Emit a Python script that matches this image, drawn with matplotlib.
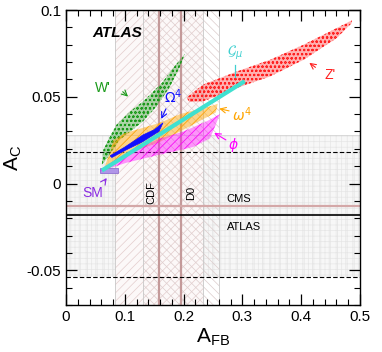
import matplotlib
matplotlib.use("Agg")
import matplotlib.pyplot as plt
from matplotlib.ticker import MultipleLocator

plt.rcParams['font.family'] = ['Liberation Sans', 'DejaVu Sans']
plt.rcParams['hatch.linewidth'] = 0.5

# ---------------- data ----------------
# measurements
cdf_afb, cdf_err = 0.158, 0.075
d0_afb, d0_err = 0.196, 0.065
atlas_ac, atlas_err = -0.018, 0.036
cms_ac, cms_err = -0.013, 0.041

# model regions (outline of scanned point clouds)
wprime_x = [0.061, 0.0635, 0.075, 0.086, 0.109, 0.131, 0.163, 0.182, 0.202,
            0.194, 0.177, 0.154, 0.131, 0.092, 0.066]
wprime_y = [0.011, 0.0195, 0.0272, 0.0339, 0.0416, 0.0473, 0.0579, 0.0665, 0.0747,
            0.0674, 0.0559, 0.0444, 0.0358, 0.0253, 0.0128]

omega_x = [0.066, 0.075, 0.080, 0.100, 0.120, 0.160, 0.194, 0.216, 0.250, 0.258,
           0.255, 0.216, 0.194, 0.160, 0.120, 0.090, 0.068]
omega_y = [0.010, 0.018, 0.025, 0.029, 0.031, 0.035, 0.040, 0.042, 0.045, 0.046,
           0.041, 0.034, 0.030, 0.024, 0.019, 0.014, 0.009]

phi_x = [0.058, 0.100, 0.160, 0.200, 0.240, 0.262, 0.245, 0.216, 0.160, 0.103, 0.058]
phi_y = [0.008, 0.017, 0.026, 0.030, 0.036, 0.040, 0.026, 0.021, 0.0167, 0.012, 0.007]

Omega_x = [0.075, 0.100, 0.131, 0.150, 0.165, 0.158, 0.130, 0.100, 0.078]
Omega_y = [0.016, 0.021, 0.028, 0.031, 0.035, 0.030, 0.024, 0.019, 0.015]

zp_x = [0.205, 0.233, 0.290, 0.347, 0.404, 0.460, 0.486,
        0.486, 0.460, 0.404, 0.347, 0.290, 0.233, 0.210]
zp_y = [0.0495, 0.057, 0.0645, 0.0713, 0.080, 0.0895, 0.094,
        0.0925, 0.0837, 0.0713, 0.0617, 0.055, 0.0473, 0.047]

gmu_x = [0.061, 0.304]
gmu_y = [0.0075, 0.059]

sm_x = [0.058, 0.088]
sm_y = [0.006, 0.009]

xticks = [0, 0.1, 0.2, 0.3, 0.4, 0.5]
xticklabels = ['0', '0.1', '0.2', '0.3', '0.4', '0.5']
yticks = [-0.05, 0, 0.05, 0.1]
yticklabels = ['-0.05', '0', '0.05', '0.1']

# ---------------- figure ----------------
fig = plt.figure(figsize=(3.82, 3.52), dpi=100)
ax = fig.add_axes([66/382, 1-305/352, (360-66)/382, (305-10)/352])
ax.set_xlim(0, 0.5)
ax.set_ylim(-0.07, 0.1)

rosy = '#c49a9a'

# CMS band (horizontal)
ax.axhspan(cms_ac - cms_err, cms_ac + cms_err, facecolor='#f7f7f7',
           edgecolor='#e6e6e6', hatch='+++', lw=0, zorder=0)
# ATLAS band
ax.axhspan(atlas_ac - atlas_err, atlas_ac + atlas_err, facecolor='none',
           edgecolor='#e2e2e2', hatch='||', lw=0, zorder=0)
# CDF band (vertical)
ax.axvspan(cdf_afb - cdf_err, cdf_afb + cdf_err, facecolor='#fcf8f8',
           edgecolor='#e4cccc', hatch='////', lw=0, zorder=0.5)
# D0 band
ax.axvspan(d0_afb - d0_err, d0_afb + d0_err, facecolor='none',
           edgecolor='#dccccc', hatch='\\\\\\\\', lw=0, zorder=0.6)
for xv in [cdf_afb - cdf_err, cdf_afb + cdf_err, d0_afb - d0_err, d0_afb + d0_err]:
    ax.axvline(xv, color='#c8c8c8', lw=0.6, zorder=0.7)
ax.axhline(cms_ac + cms_err, color='#d4d4d4', lw=0.6, zorder=0.7)

# central values
ax.axvline(cdf_afb, color=rosy, lw=1.6, zorder=1)
ax.axvline(d0_afb, color=rosy, lw=1.6, zorder=1)
ax.axhline(cms_ac, color='#d4a8a8', lw=1.6, zorder=1)
ax.axhline(atlas_ac, color='black', lw=1.2, zorder=1.1)
ax.axhline(atlas_ac + atlas_err, color='black', lw=0.8, ls=(0, (4, 2)), zorder=1.1)
ax.axhline(atlas_ac - atlas_err, color='black', lw=0.8, ls=(0, (4, 2)), zorder=1.1)

# model regions
def cloud(xs, ys, color, hatch, z, alpha=0.35):
    ax.fill(xs, ys, facecolor=color, alpha=alpha, lw=0, zorder=z)
    ax.fill(xs, ys, facecolor='none', edgecolor=color, hatch=hatch, lw=0, zorder=z + 0.01)

cloud(wprime_x, wprime_y, '#1a9a1a', 'oooo', 2)
cloud(zp_x, zp_y, '#ff2020', 'oooo', 2)
cloud(omega_x, omega_y, '#ffa500', '////', 2.2, 0.45)
cloud(phi_x, phi_y, '#ff00ff', '////', 2.4, 0.4)
ax.fill(Omega_x, Omega_y, facecolor='#1010ff', lw=0.5, edgecolor='#1010ff', zorder=2.6)
ax.plot(gmu_x, gmu_y, color='#40e0d0', lw=3, solid_capstyle='butt', zorder=2.8)
ax.fill([sm_x[0], sm_x[1], sm_x[1], sm_x[0]], [sm_y[0], sm_y[0], sm_y[1], sm_y[1]],
        facecolor='#b095e8', edgecolor='#9070d0', lw=0.6, zorder=2.1)

# labels
ax.text(0.044, 0.087, 'ATLAS', fontsize=11, fontweight='bold', fontstyle='italic',
        va='center', ha='left', zorder=5)
ax.text(0.063, 0.055, "W'", color='#1a9a1a', fontsize=10, ha='center', va='center')
ax.annotate('', xy=(0.109, 0.049), xytext=(0.093, 0.054),
            arrowprops=dict(arrowstyle='->', color='#1a9a1a', lw=0.8))
ax.text(0.183, 0.050, r'$\Omega^4$', color='#1010ff', fontsize=10, ha='center', va='center')
ax.annotate('', xy=(0.160, 0.0358), xytext=(0.172, 0.0445),
            arrowprops=dict(arrowstyle='->', color='#1010ff', lw=0.8))
ax.text(0.449, 0.0626, "Z'", color='#ff2020', fontsize=10, ha='center', va='center')
ax.annotate('', xy=(0.410, 0.0705), xytext=(0.428, 0.066),
            arrowprops=dict(arrowstyle='->', color='#ff2020', lw=0.8))
ax.text(0.287, 0.0755, r'$\mathcal{G}_\mu$', color='#40d0d0', fontsize=10, ha='center', va='center')
ax.plot([0.287, 0.287], [0.0685, 0.060], color='#40d0d0', lw=0.9)
ax.text(0.300, 0.0395, r'$\omega^4$', color='#ffa500', fontsize=10, ha='center', va='center')
ax.annotate('', xy=(0.256, 0.0435), xytext=(0.282, 0.0415),
            arrowprops=dict(arrowstyle='->', color='#ffa500', lw=0.8))
ax.text(0.284, 0.0224, r'$\phi$', color='#ff00ff', fontsize=10, ha='center', va='center')
ax.annotate('', xy=(0.248, 0.030), xytext=(0.276, 0.0243),
            arrowprops=dict(arrowstyle='->', color='#ff00ff', lw=0.8))
ax.text(0.046, -0.0054, 'SM', color='#8a2be2', fontsize=10, ha='center', va='center')
ax.annotate('', xy=(0.072, 0.0045), xytext=(0.063, 0.0002),
            arrowprops=dict(arrowstyle='->', color='#8a2be2', lw=0.8))
ax.text(0.1445, -0.0054, 'CDF', rotation=90, fontsize=8, ha='center', va='center')
ax.text(0.212, -0.0054, 'D0', rotation=90, fontsize=8, ha='center', va='center')
ax.text(0.273, -0.0088, 'CMS', fontsize=8, ha='left', va='center')
ax.text(0.274, -0.0249, 'ATLAS', fontsize=8, ha='left', va='center')

# axes styling
ax.set_xticks(xticks)
ax.set_xticklabels(xticklabels)
ax.set_yticks(yticks)
ax.set_yticklabels(yticklabels)
ax.xaxis.set_minor_locator(MultipleLocator(0.02))
ax.yaxis.set_minor_locator(MultipleLocator(0.01))
ax.tick_params(which='both', direction='in', top=True, right=True, labelsize=11)
ax.tick_params(which='major', length=8, width=0.9)
ax.tick_params(which='minor', length=4, width=0.8)
for s in ax.spines.values():
    s.set_linewidth(1.0)
ax.set_xlabel(r'A$_{\mathregular{FB}}$', fontsize=15, labelpad=2)
ax.set_ylabel(r'A$_{\mathregular{C}}$', fontsize=15, labelpad=2)

fig.savefig('out.png', dpi=100)
